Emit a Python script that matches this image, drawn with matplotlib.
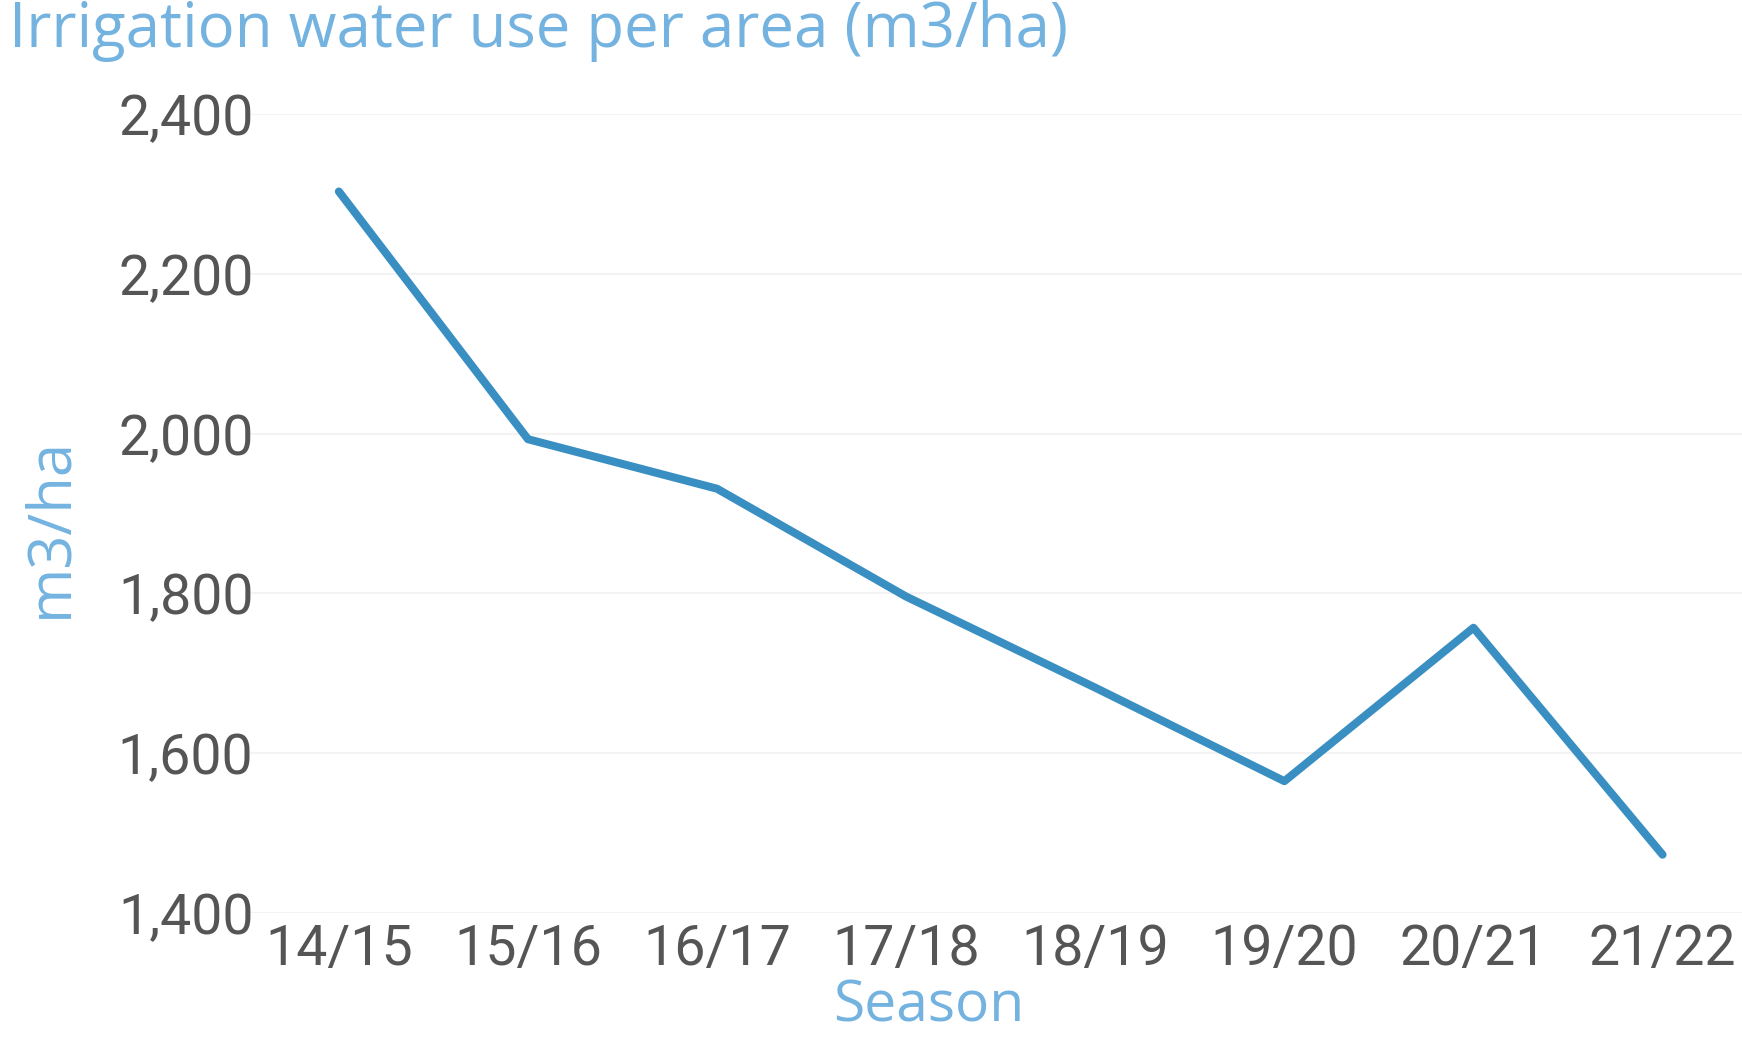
import matplotlib
matplotlib.use("Agg")
import matplotlib.pyplot as plt
from matplotlib.ticker import FuncFormatter

seasons = ["14/15", "15/16", "16/17", "17/18", "18/19", "19/20", "20/21", "21/22"]
water_use = [2303, 1993, 1931, 1796, 1682, 1565, 1757, 1473]
y_ticks = [1400, 1600, 1800, 2000, 2200, 2400]

W, H = 1742, 1037
fig = plt.figure(figsize=(W / 100, H / 100), dpi=100)
fig.patch.set_facecolor("white")

left, right = 250 / W, 1.0
bottom, top = 1 - 913 / H, 1 - 114 / H
ax = fig.add_axes([left, bottom, right - left, top - bottom])

x = list(range(len(seasons)))
ax.plot(x, water_use, color="#3a8fc2", lw=5.8, solid_capstyle="round",
        solid_joinstyle="round", zorder=3)

ax.set_ylim(1400, 2400)
ax.set_xlim(-0.47, 7.42)
ax.set_yticks(y_ticks)
ax.yaxis.set_major_formatter(FuncFormatter(lambda v, p: f"{int(v):,}"))
ax.set_xticks(x)
ax.set_xticklabels(seasons)

ax.grid(axis="y", color="#f3f3f3", lw=1.5, zorder=0)
ax.grid(axis="x", visible=False)
for s in ax.spines.values():
    s.set_visible(False)
ax.tick_params(axis="both", length=0, colors="#555555", labelsize=40)
ax.tick_params(axis="y", pad=-2.5)
ax.tick_params(axis="x", pad=7.5)
for lab in ax.get_xticklabels() + ax.get_yticklabels():
    lab.set_fontfamily("Roboto")
    lab.set_color("#555555")

title_color = "#74b3e0"
fig.text(9 / W, 1 - 31 / H, "Irrigation water use per area (m3/ha)",
         fontsize=44.5, color=title_color, family="Open Sans", va="center", ha="left")
fig.text(50 / W, 1 - 527 / H, "m3/ha", fontsize=43, color=title_color,
         family="Open Sans", rotation=90, va="center", ha="center")
fig.text(929 / W, 1 - 1007 / H, "Season", fontsize=41, color=title_color,
         family="Open Sans", va="center", ha="center")

fig.savefig("out.png", dpi=100, facecolor="white")
